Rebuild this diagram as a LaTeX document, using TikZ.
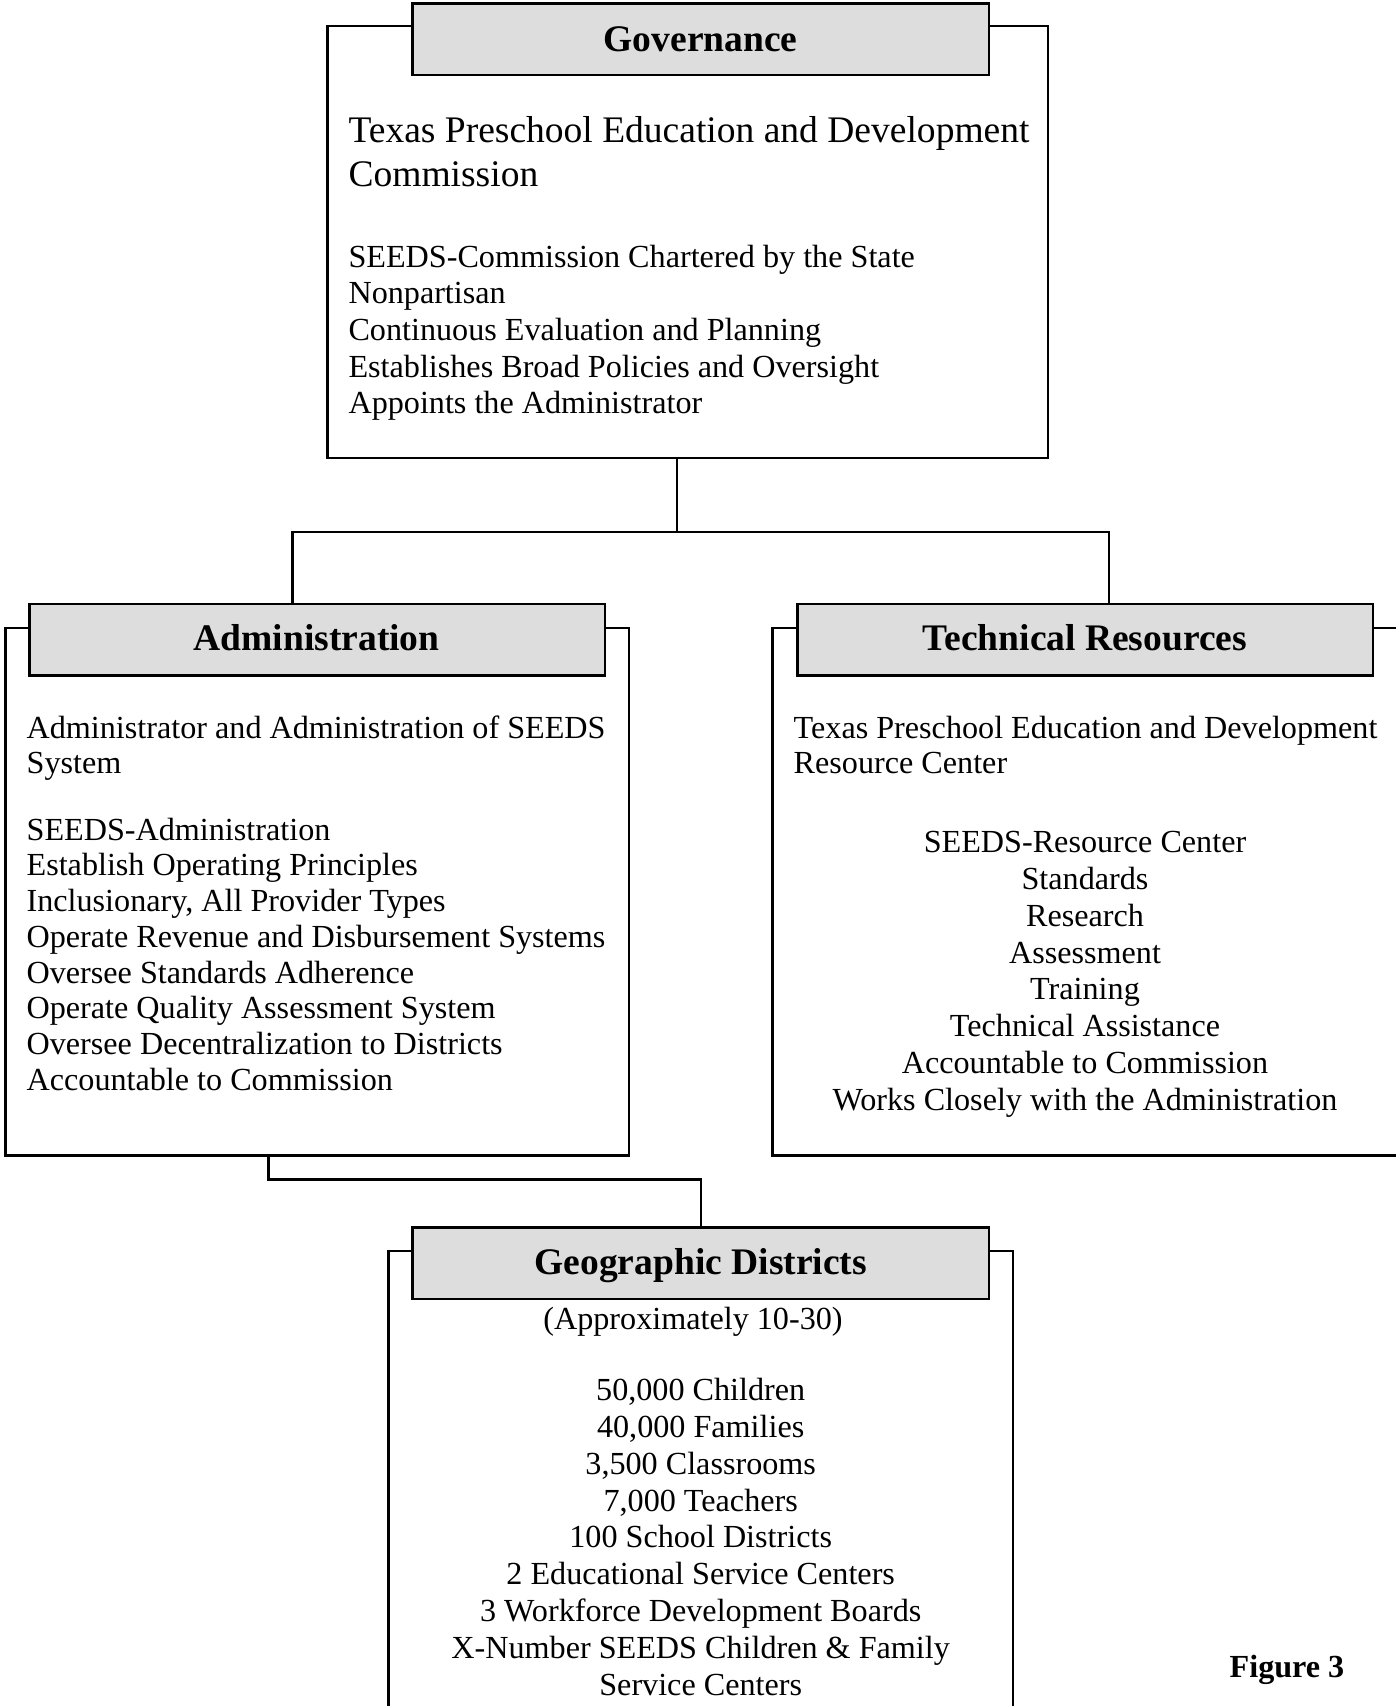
\documentclass[tikz,border=0pt]{standalone}
\usepackage{fontspec}
\setmainfont{Liberation Serif}
\usetikzlibrary{fit}
\definecolor{headgray}{HTML}{DDDDDD}
\tikzset{
  outerbox/.style={draw, line width=0.9pt, inner sep=0pt},
  headbox/.style={draw, line width=0.9pt, fill=headgray, inner sep=0pt},
  headtext/.style={font=\fontsize{14}{16}\selectfont\bfseries, inner sep=0pt, anchor=base},
  bigtext/.style={font=\fontsize{14}{16.2}\selectfont, inner sep=0pt, anchor=base west, align=left},
  bodyleft/.style={font=\fontsize{12}{13.7}\selectfont, inner sep=0pt, anchor=base west, align=left},
  bodycenter/.style={font=\fontsize{12}{13.75}\selectfont, inner sep=0pt, anchor=base, align=center},
  conn/.style={line width=0.9pt},
}
\begin{document}
\begin{tikzpicture}[x=0.3731pt, y=-0.3731pt]
\useasboundingbox (0,0) rectangle (1396,1706);
\clip (0,0) rectangle (1396,1706);
\fill[white] (0,0) rectangle (1396,1706);

% Governance
\node[outerbox, fit={(327.5,26.1) (1047.7,458)}] (gov) {};
\node[headbox, fit={(412.4,3.3) (989,75.1)}] (govh) {};
\node[headtext] (govht) at (700.7,51) {Governance};
\node[bigtext] (govtitle) at (348,186.4) {Texas Preschool Education and Development\\Commission};
\node[bodyleft] (govlist) at (348,413.9) {SEEDS-Commission Chartered by the State\\Nonpartisan\\Continuous Evaluation and Planning\\Establishes Broad Policies and Oversight\\Appoints the Administrator};

% Administration
\node[outerbox, fit={(5.4,627.8) (628.9,1155.5)}] (adm) {};
\node[headbox, fit={(29.4,603.8) (605,675.6)}] (admh) {};
\node[headtext] (admht) at (316.6,650) {Administration};
\node[font=\fontsize{12}{13}\selectfont, inner sep=0pt, anchor=base west, align=left] (admtitle) at (26.1,773.8) {Administrator and Administration of SEEDS\\System};
\node[font=\fontsize{12}{13.34}\selectfont, inner sep=0pt, anchor=base west, align=left] (admlist) at (26.1,1090.3) {SEEDS-Administration\\Establish Operating Principles\\Inclusionary, All Provider Types\\Operate Revenue and Disbursement Systems\\Oversee Standards Adherence\\Operate Quality Assessment System\\Oversee Decentralization to Districts\\Accountable to Commission};

% Technical Resources
\node[outerbox, fit={(772.5,627.8) (1430,1155.5)}] (tech) {};
\node[headbox, fit={(797.5,603.8) (1373,675.6)}] (techh) {};
\node[headtext] (techht) at (1085,650) {Technical Resources};
\node[font=\fontsize{12}{13}\selectfont, inner sep=0pt, anchor=base west, align=left] (techtitle) at (793.2,773.8) {Texas Preschool Education and Development\\Resource Center};
\node[font=\fontsize{12}{13.7}\selectfont, inner sep=0pt, anchor=base, align=center] (techlist) at (1085,1110) {SEEDS-Resource Center\\Standards\\Research\\Assessment\\Training\\Technical Assistance\\Accountable to Commission\\Works Closely with the Administration};

% Geographic Districts
\node[outerbox, fit={(388.4,1251.2) (1013,1740)}] (geo) {};
\node[headbox, fit={(412.4,1227.3) (989,1299.1)}] (geoh) {};
\node[headtext] (geoht) at (700.7,1274) {Geographic Districts};
\node[bodycenter] (geoapprox) at (693,1329) {(Approximately 10-30)};
\node[bodycenter] (geolist) at (700.7,1695.3) {50,000 Children\\40,000 Families\\3,500 Classrooms\\7,000 Teachers\\100 School Districts\\2 Educational Service Centers\\3 Workforce Development Boards\\X-Number SEEDS Children \& Family\\Service Centers};

% Figure label
\node[font=\fontsize{12}{14}\selectfont\bfseries, inner sep=0pt, anchor=base] (figlabel) at (1287,1677) {Figure 3};

% Connectors
\coordinate (j1) at (676.7,532);
\coordinate (ja) at (292.7,532);
\coordinate (jt) at (1108.7,532);
\draw[conn] (j1 |- gov.south) -- (j1);
\draw[conn] (ja |- admh.north) -- (ja) -- (jt) -- (jt |- techh.north);
\coordinate (k1) at (268.7,1179.4);
\coordinate (k2) at (700.7,1179.4);
\draw[conn] (k1 |- adm.south) -- (k1) -- (k2) -- (geoh.north);
\end{tikzpicture}
\end{document}
